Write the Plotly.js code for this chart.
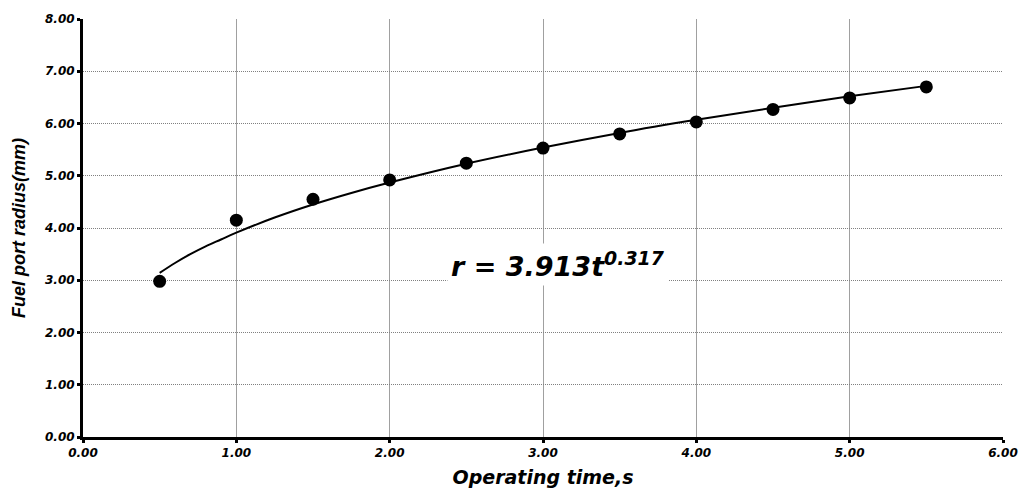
<!DOCTYPE html>
<html>
<head>
<meta charset="utf-8">
<script src="https://cdn.plot.ly/plotly-3.0.1.min.js"></script>
<style>html,body{margin:0;padding:0;background:#fff;}#chart{width:1019px;height:488px;}</style>
</head>
<body>
<div id="chart"></div>
<script>
// Measured data points
const timeS = [0.5, 1.0, 1.5, 2.0, 2.5, 3.0, 3.5, 4.0, 4.5, 5.0, 5.5];
const radiusMm = [2.98, 4.15, 4.55, 4.92, 5.24, 5.53, 5.80, 6.03, 6.27, 6.49, 6.70];
// Trend line points
const trendT = [0.5, 0.6, 0.7, 0.8, 0.9, 1.0, 1.25, 1.5, 1.75, 2.0, 2.5, 3.0, 3.5, 4.0, 4.5, 5.0, 5.5];
const trendR = [3.14, 3.33, 3.50, 3.65, 3.78, 3.91, 4.20, 4.45, 4.67, 4.87, 5.23, 5.54, 5.82, 6.07, 6.30, 6.52, 6.72];
const xTicks = [0, 1, 2, 3, 4, 5, 6];
const yTicks = [0, 1, 2, 3, 4, 5, 6, 7, 8];
const eqText = "r = 3.913t<sup>0.317</sup>";

const tickFont = {family: "DejaVu Sans, Verdana, sans-serif", size: 12, color: "#000", weight: "bold", style: "italic"};
const xTitleFont = {family: "DejaVu Sans, Verdana, sans-serif", size: 19, color: "#000", weight: "bold", style: "italic"};
const yTitleFont = {family: "Liberation Sans, Arial, sans-serif", size: 18, color: "#000", weight: "bold", style: "italic"};

const traces = [
  {x: trendT, y: trendR, mode: "lines", line: {color: "#000", width: 2, shape: "spline"}, hoverinfo: "skip", showlegend: false},
  {x: timeS, y: radiusMm, mode: "markers", marker: {color: "#000", size: 13, symbol: "circle"}, showlegend: false}
];

const layout = {
  width: 1019, height: 488,
  margin: {l: 83, r: 16, t: 19, b: 51},
  paper_bgcolor: "#fff", plot_bgcolor: "#fff",
  showlegend: false,
  xaxis: {
    range: [0, 6], tickvals: xTicks, ticktext: xTicks.map(v => v.toFixed(2)),
    showgrid: true, gridcolor: "#a0a0a0", gridwidth: 1,
    showline: true, linecolor: "#000", linewidth: 3,
    ticks: "outside", ticklen: 3, tickwidth: 3, tickcolor: "#000",
    tickfont: tickFont, zeroline: false, automargin: false,
    title: {text: "Operating time,s", font: xTitleFont, standoff: 15}
  },
  yaxis: {
    range: [0, 8], tickvals: yTicks, ticktext: yTicks.map(v => v.toFixed(2)),
    showgrid: true, gridcolor: "#808080", gridwidth: 1, griddash: "1px,1px",
    showline: true, linecolor: "#000", linewidth: 3,
    ticks: "outside", ticklen: 3, tickwidth: 3, tickcolor: "#000",
    tickfont: tickFont, zeroline: false, automargin: false,
    title: {text: "Fuel port radius(mm)", font: yTitleFont, standoff: 14}
  },
  annotations: [{
    x: 3.1, y: 3.3, xref: "x", yref: "y", text: eqText, showarrow: false,
    font: {family: "DejaVu Sans, Verdana, sans-serif", size: 27, color: "#000", weight: "bold", style: "italic"},
    bgcolor: "#fff", borderpad: 3
  }]
};

Plotly.newPlot("chart", traces, layout, {displayModeBar: false, staticPlot: true});
</script>
</body>
</html>
